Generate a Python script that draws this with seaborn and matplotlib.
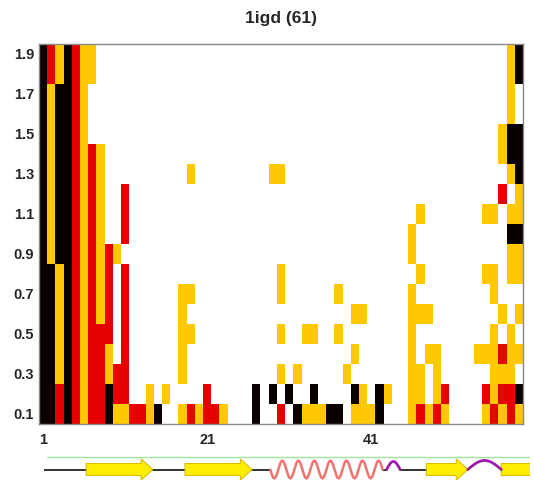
import numpy as np
import pandas as pd
import matplotlib
matplotlib.use("Agg")
import matplotlib.pyplot as plt
import seaborn as sns
from matplotlib.colors import ListedColormap
from matplotlib.patches import Polygon

# ---------------- data ----------------
title = "1igd (61)"
residues = list(range(1, 60))
y_levels = [1.9, 1.8, 1.7, 1.6, 1.5, 1.4, 1.3, 1.2, 1.1, 1.0,
            0.9, 0.8, 0.7, 0.6, 0.5, 0.4, 0.3, 0.2, 0.1]
# 0 = none, 1 = gold, 2 = red, 3 = black ; one string per y level (top to bottom)
rows = [
    "3213211" + "0" * 50 + "13",
    "3213211" + "0" * 50 + "13",
    "313321" + "0" * 51 + "10",
    "313321" + "0" * 51 + "10",
    "313321" + "0" * 50 + "133",
    "31332121" + "0" * 48 + "133",
    "31332121" + "0" * 10 + "1" + "0" * 9 + "11" + "0" * 27 + "13",
    "31332121" + "00" + "2" + "0" * 45 + "201",
    "31332121" + "00" + "2" + "0" * 35 + "1" + "0" * 7 + "11" + "0" + "11",
    "31332121" + "00" + "2" + "0" * 34 + "1" + "0" * 11 + "33",
    "3133212121" + "0" + "0" * 34 + "1" + "0" * 11 + "11",
    "3313212120" + "2" + "0" * 18 + "1" + "0" * 16 + "1" + "0" * 7 + "11" + "0" + "11",
    "3313212120" + "2" + "0" * 6 + "11" + "0" * 10 + "1" + "0" * 6 + "1" + "0" * 8 + "1" + "0" * 9 + "1" + "000",
    "3313212120" + "2" + "0" * 6 + "1" + "0" * 20 + "11" + "0" * 5 + "111" + "0" * 8 + "1" + "0" + "1",
    "33132122202" + "0" * 6 + "11" + "0" * 10 + "1" + "00" + "11" + "00" + "1" + "0" * 8 + "1" + "0" * 9 + "1" + "0" + "1" + "0",
    "33132122102" + "0" * 6 + "1" + "0" * 20 + "1" + "0" * 6 + "1" + "0" + "11" + "0" * 4 + "111211",
    "33132122122" + "0" * 6 + "1" + "0" * 11 + "1" + "0" + "1" + "0" * 5 + "1" + "0" * 7 + "11" + "0" + "1" + "0" * 6 + "111" + "0",
    "33232122322" + "00" + "1" + "0" + "1" + "0000" + "2" + "0" * 5 + "3" + "0" + "3" + "0" + "3" + "00" + "3" + "0" * 4 + "31" + "0" + "31" + "00" + "11" + "0" + "12" + "0" * 4 + "21223",
    "33232122311" + "2213" + "00" + "121221" + "000" + "3" + "00" + "2" + "0" + "3" + "111" + "33" + "0" + "111" + "3" + "000" + "12121" + "0000" + "12121",
]
level_colors = ["#FFFFFF", "#FFC800", "#E60000", "#0A0000"]
x_tick_residues = [1, 21, 41]
y_tick_levels = [1.9, 1.7, 1.5, 1.3, 1.1, 0.9, 0.7, 0.5, 0.3, 0.1]

# secondary structure (residue units on a 0..61 scale)
strands = [(5.3, 13.65), (17.7, 26.1), (48.0, 53.2), (57.4, 63.5)]
helices = [(28.4, 42.5)]
turns = [(43.0, 44.7), (53.2, 57.4)]
coils = [(0.0, 28.4), (42.5, 43.0), (44.7, 53.2), (57.4, 61.0)]

# ---------------- figure ----------------
W, H = 534, 481
fig = plt.figure(figsize=(W / 100, H / 100), dpi=100)
sns.set_style("white")
plt.rcParams["font.family"] = ["Liberation Sans", "DejaVu Sans"]

mat = np.array([[int(c) for c in r] for r in rows])
df = pd.DataFrame(mat, index=y_levels, columns=residues)

ax = fig.add_axes([39 / W, 1 - 425 / H, (523 - 39) / W, (425 - 45) / H])
sns.heatmap(df, ax=ax, cmap=ListedColormap(level_colors), vmin=-0.5, vmax=3.5,
            cbar=False, linewidths=0, square=False)

for sp in ax.spines.values():
    sp.set_visible(True)
    sp.set_color("#8a8a8a")
    sp.set_linewidth(1.0)

ax.set_xticks([residues.index(r) + 0.5 for r in x_tick_residues])
ax.set_xticklabels([str(r) for r in x_tick_residues], rotation=0,
                   fontsize=10.5, fontweight="bold")
ax.set_yticks([y_levels.index(v) + 0.5 for v in y_tick_levels])
ax.set_yticklabels([f"{v:.1f}" for v in y_tick_levels], rotation=0,
                   fontsize=10.5, fontweight="bold")
ax.tick_params(direction="in", length=3.5, width=0.8, color="#555555",
               top=True, right=True, bottom=True, left=True,
               labeltop=False, labelright=False)
ax.tick_params(axis="x", pad=6)
ax.tick_params(axis="y", pad=3.5)
ax.set_xlabel("")
ax.set_ylabel("")

fig.text((39 + 523) / 2 / W, 1 - 18 / H, title, ha="center", va="center",
         fontsize=12.5, fontweight="bold")

# ---------------- secondary structure ----------------
ss = fig.add_axes([44 / W, 0, (530 - 44) / W, (481 - 450) / H])
ss.set_xlim(0, 61)
ss.set_ylim(481, 450)
ss.axis("off")
mid = 470.5
ss.plot([0.34, 61], [458.3, 458.3], color="#9ee89a", lw=1.0, zorder=1)
for a, b in coils:
    ss.plot([a, b], [mid, mid], color="#111111", lw=1.2, zorder=2)
head = 1.45
for a, b in strands:
    hb = b - head
    poly = Polygon([(a, mid - 6), (hb, mid - 6), (hb, mid - 10.5), (b, mid),
                    (hb, mid + 10.5), (hb, mid + 6), (a, mid + 6)],
                   closed=True, facecolor="#FFEE00", edgecolor="#D8BE00",
                   lw=0.8, zorder=3)
    ss.add_patch(poly)
for a, b in helices:
    xs = np.linspace(a, b, 600)
    ys = mid + 8.8 * np.sin(2 * np.pi * 7 * (xs - a) / (b - a))
    ss.plot(xs, ys, color="#F07272", lw=1.8, zorder=3)
for i, (a, b) in enumerate(turns):
    xs = np.linspace(a, b, 100)
    h = 8 if i == 0 else 9
    ys = mid - h * np.sin(np.pi * (xs - a) / (b - a))
    ss.plot(xs, ys, color="#9B1FA8", lw=2.0, zorder=3)

fig.savefig("out.png", dpi=100)
